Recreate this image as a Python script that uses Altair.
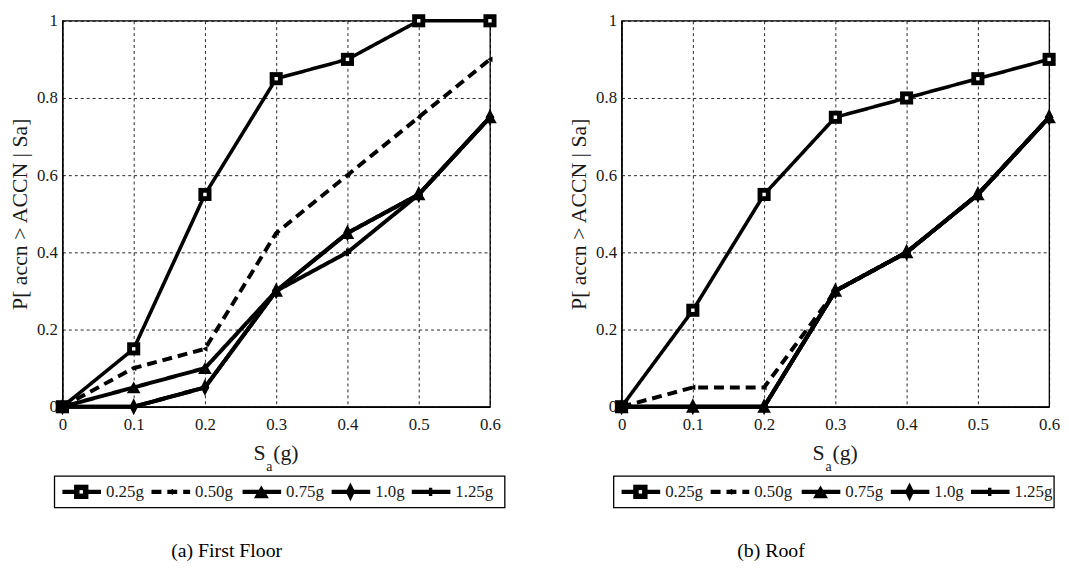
import altair as alt
import pandas as pd

# ---------------- data ----------------
SA = [0.0, 0.1, 0.2, 0.3, 0.4, 0.5, 0.6]
SERIES = ["0.25g", "0.50g", "0.75g", "1.0g", "1.25g"]

FF_025 = [0.0, 0.15, 0.55, 0.85, 0.90, 1.00, 1.00]
FF_050 = [0.0, 0.10, 0.15, 0.45, 0.60, 0.75, 0.90]
FF_075 = [0.0, 0.05, 0.10, 0.30, 0.45, 0.55, 0.75]
FF_100 = [0.0, 0.00, 0.05, 0.30, 0.45, 0.55, 0.75]
FF_125 = [0.0, 0.00, 0.05, 0.30, 0.40, 0.55, 0.75]

RF_025 = [0.0, 0.25, 0.55, 0.75, 0.80, 0.85, 0.90]
RF_050 = [0.0, 0.05, 0.05, 0.30, 0.40, 0.55, 0.75]
RF_075 = [0.0, 0.00, 0.00, 0.30, 0.40, 0.55, 0.75]
RF_100 = [0.0, 0.00, 0.00, 0.30, 0.40, 0.55, 0.75]
RF_125 = [0.0, 0.00, 0.00, 0.30, 0.40, 0.55, 0.75]

Y_TICKS = [0, 0.2, 0.4, 0.6, 0.8, 1.0]
Y_TITLE = "P[ accn > ACCN | Sa]"

# ---------------- styles ----------------
W, H = 432, 390
FONT = "Liberation Serif"
TXT = "#1a1a1a"
DIAMOND = "M0,-1.25L0.62,0L0,1.25L-0.62,0Z"

STYLE = {
    "0.25g": dict(dash=[1, 0], shape="square", size=175, sw=3.6),
    "0.50g": dict(dash=[10, 6], shape="triangle-left", size=35, sw=4),
    "0.75g": dict(dash=[1, 0], shape="triangle-up", size=190, sw=4),
    "1.0g": dict(dash=[1, 0], shape=DIAMOND, size=190, sw=4),
    "1.25g": dict(dash=[1, 0], shape="cross", size=60, sw=4),
}

one = pd.DataFrame({"k": [0]})


def marker(chart, st, scale=1.0, **enc):
    layers = [chart.mark_point(shape=st["shape"], size=st["size"] * scale, filled=True,
                               color="black", opacity=1).encode(**enc)]
    if st["shape"] == "square":
        layers.append(chart.mark_point(shape="square", size=12, filled=True,
                                       color="white", opacity=1).encode(**enc))
    return layers


def panel(values, caption, cap_x, box_right):
    df = pd.DataFrame([
        {"sa": x, "p": v, "series": s}
        for s, vals in zip(SERIES, values) for x, v in zip(SA, vals)
    ])
    X = alt.X("sa:Q", scale=alt.Scale(domain=[0, 0.6], nice=False),
              axis=alt.Axis(values=SA, format=".1~f", title=None, grid=True,
                            ticks=False, labelFlush=False, labelOverlap=False,
                            labelPadding=10))
    Y = alt.Y("p:Q", scale=alt.Scale(domain=[0, 1], nice=False),
              axis=alt.Axis(values=Y_TICKS, format=".1~f", title=Y_TITLE, grid=True,
                            ticks=False, labelFlush=False, labelOverlap=False,
                            labelPadding=5, titlePadding=5))
    layers = []
    for s in SERIES:
        st = STYLE[s]
        c = alt.Chart(df).transform_filter(alt.datum.series == s)
        layers.append(c.mark_line(color="black", strokeWidth=st["sw"],
                                  strokeDash=st["dash"]).encode(x=X, y=Y))
    for s in SERIES:
        st = STYLE[s]
        c = alt.Chart(df).transform_filter(alt.datum.series == s)
        layers += marker(c, st, x=X, y=Y)

    # x-axis title: S_a (g)
    base1 = alt.Chart(one)
    layers.append(base1.mark_text(text="S", font=FONT, fontSize=22, color=TXT,
                                  align="left", baseline="middle")
                  .encode(x=alt.value(193), y=alt.value(H + 47)))
    layers.append(base1.mark_text(text="a", font=FONT, fontSize=14, color=TXT,
                                  align="left", baseline="middle")
                  .encode(x=alt.value(206), y=alt.value(H + 61)))
    layers.append(base1.mark_text(text="(g)", font=FONT, fontSize=22, color=TXT,
                                  align="left", baseline="middle")
                  .encode(x=alt.value(213), y=alt.value(H + 47)))

    # legend box
    ly = H + 86
    layers.append(base1.mark_rect(fillOpacity=0, stroke="black", strokeWidth=1.3)
                  .encode(x=alt.value(-8), x2=alt.value(box_right),
                          y=alt.value(ly - 16), y2=alt.value(ly + 16)))
    line_x = [0, 90, 182, 272, 353]
    for s, lx in zip(SERIES, line_x):
        st = STYLE[s]
        layers.append(base1.mark_rule(color="black", strokeWidth=4.5,
                                      strokeDash=st["dash"])
                      .encode(x=alt.value(lx), x2=alt.value(lx + 39), y=alt.value(ly)))
        layers += marker(base1, st, scale=1.2, x=alt.value(lx + 19), y=alt.value(ly))
        layers.append(base1.mark_text(text=s, font=FONT, fontSize=17, color=TXT,
                                      align="left", baseline="middle")
                      .encode(x=alt.value(lx + 44), y=alt.value(ly)))

    # caption
    layers.append(base1.mark_text(text=caption, font=FONT, fontSize=20, color="black",
                                  align="center", baseline="middle")
                  .encode(x=alt.value(cap_x), y=alt.value(H + 146)))

    return alt.layer(*layers).properties(width=W, height=H)


left = panel([FF_025, FF_050, FF_075, FF_100, FF_125], "(a) First Floor", 166, 447)
right = panel([RF_025, RF_050, RF_075, RF_100, RF_125], "(b) Roof", 151, 437)

chart = alt.hconcat(left, right, spacing=61).properties(
    padding={"left": 0, "top": 0, "right": 0, "bottom": 0}
).configure_view(
    stroke="black", strokeWidth=1.3
).configure_axis(
    labelFont=FONT, labelFontSize=17, labelColor=TXT,
    titleFont=FONT, titleFontSize=22, titleColor=TXT, titleFontWeight="normal",
    gridColor="black", gridDash=[3, 3], gridWidth=1, gridOpacity=0.85,
    domainColor="black", domainWidth=1.3,
)

chart.save("out.html", embed_options={"renderer": "svg", "actions": False})
